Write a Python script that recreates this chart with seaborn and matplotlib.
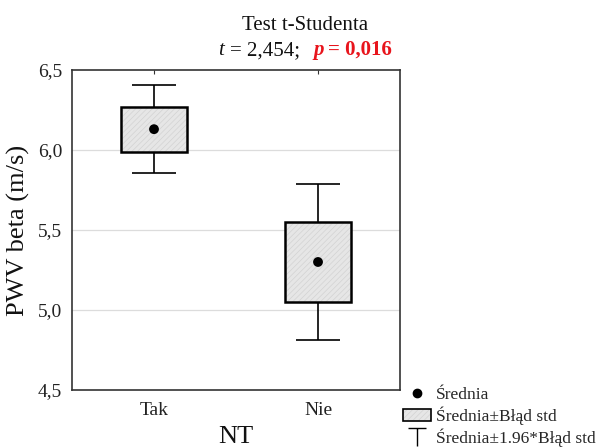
import numpy as np
import pandas as pd
import matplotlib
matplotlib.use("Agg")
import matplotlib.pyplot as plt
from matplotlib.lines import Line2D
from matplotlib.patches import Patch
from matplotlib.path import Path
import seaborn as sns

# Group means and standard errors of PWV beta by NT status
groups = ["Tak", "Nie"]
means = [6.13, 5.30]
std_err = [0.14, 0.25]
t_stat = "2,454"
p_value = "0,016"

df = pd.DataFrame({"NT": groups, "mean": means, "se": std_err})
df["lo"] = df["mean"] - df["se"]
df["ci"] = 1.96 * df["se"]

sns.set_theme(style="white")
plt.rcParams["font.family"] = ["Liberation Serif", "DejaVu Serif"]
plt.rcParams["hatch.linewidth"] = 0.5

fig = plt.figure(figsize=(6.0, 4.48), dpi=100)
ax = fig.add_axes([0.12, 0.1295, 0.5467, 0.7143])

xpos = np.arange(len(groups))
box_face = "#e6e6e6"
hatch_col = "#d2d2d2"

# grid lines behind the boxes
for yv in [5.0, 5.5, 6.0]:
    ax.axhline(yv, color="#dcdcdc", lw=0.9, zorder=0)

# whiskers: mean +/- 1.96*SE
ax.errorbar(xpos, df["mean"], yerr=df["ci"], fmt="none", ecolor="black",
            elinewidth=1.2, capsize=16, capthick=1.2, zorder=1)

# boxes: mean +/- SE (hatched fill, then black outline)
ax.bar(xpos, 2 * df["se"], bottom=df["lo"], width=0.4, color=box_face,
       hatch="//////", edgecolor=hatch_col, linewidth=0, zorder=2)
ax.bar(xpos, 2 * df["se"], bottom=df["lo"], width=0.4, fill=False,
       edgecolor="black", linewidth=1.8, zorder=3)

# mean markers
sns.scatterplot(data=df, x="NT", y="mean", ax=ax, color="black", s=50,
                edgecolor="none", zorder=4, legend=False)

ax.set_xlim(-0.5, 1.5)
ax.set_ylim(4.5, 6.5)
yt = [4.5, 5.0, 5.5, 6.0, 6.5]
ax.set_yticks(yt)
ax.set_yticklabels([f"{v:.1f}".replace(".", ",") for v in yt])
ax.set_xticks(xpos)
ax.set_xticklabels(groups)
ax.tick_params(axis="both", direction="in", length=3, width=0.8, labelsize=14,
               colors="#333333", labelcolor="#222222", pad=7)
ax.tick_params(axis="x", top=True, pad=9)
ax.tick_params(axis="y", left=False)
for sp in ax.spines.values():
    sp.set_color("#333333")
    sp.set_linewidth(1.2)

ax.set_xlabel("NT", fontsize=19, labelpad=5, color="#111111")
ax.set_ylabel("PWV beta (m/s)", fontsize=19, labelpad=6, color="#111111")

# title lines
fig.text(0.5083, 1 - 30 / 448, "Test t-Studenta", ha="center", va="baseline",
         fontsize=15, color="#111111")

renderer = fig.canvas.get_renderer()
base_y = 1 - 55 / 448
x_px = 218
pieces = [
    ("t", dict(style="italic", color="#111111"), 6),
    ("= " + t_stat + ";", dict(color="#111111"), 14),
    ("p", dict(style="italic", weight="bold", color="#e8141c"), 4),
    ("= " + p_value, dict(weight="bold", color="#e8141c"), 0),
]
for txt, kw, gap in pieces:
    t = fig.text(x_px / 600, base_y, txt, ha="left", va="baseline", fontsize=15, **kw)
    bb = t.get_window_extent(renderer=renderer)
    x_px = bb.x1 + gap

# legend
tee = Path([(-1, 1), (1, 1), (0, 1), (0, -1)],
           [Path.MOVETO, Path.LINETO, Path.MOVETO, Path.LINETO])
box_handle = (Patch(facecolor=box_face, edgecolor=hatch_col, hatch="//////", linewidth=0),
              Patch(fill=False, edgecolor="black", linewidth=1.2))
handles = [
    Line2D([], [], marker="o", color="black", linestyle="none", markersize=6),
    box_handle,
    Line2D([], [], marker=tee, color="black", linestyle="none", markersize=13,
           markerfacecolor="none", markeredgewidth=1.0),
]
labels = ["Średnia", "Średnia±Błąd std", "Średnia±1.96*Błąd std"]
fig.legend(handles, labels, loc="upper left", bbox_to_anchor=(401 / 600, 1 - 385 / 448),
           frameon=False, fontsize=12.5, handlelength=1.6, handletextpad=0.3,
           labelspacing=0.2, borderaxespad=0, borderpad=0.1)

fig.savefig("out.png", dpi=100)
